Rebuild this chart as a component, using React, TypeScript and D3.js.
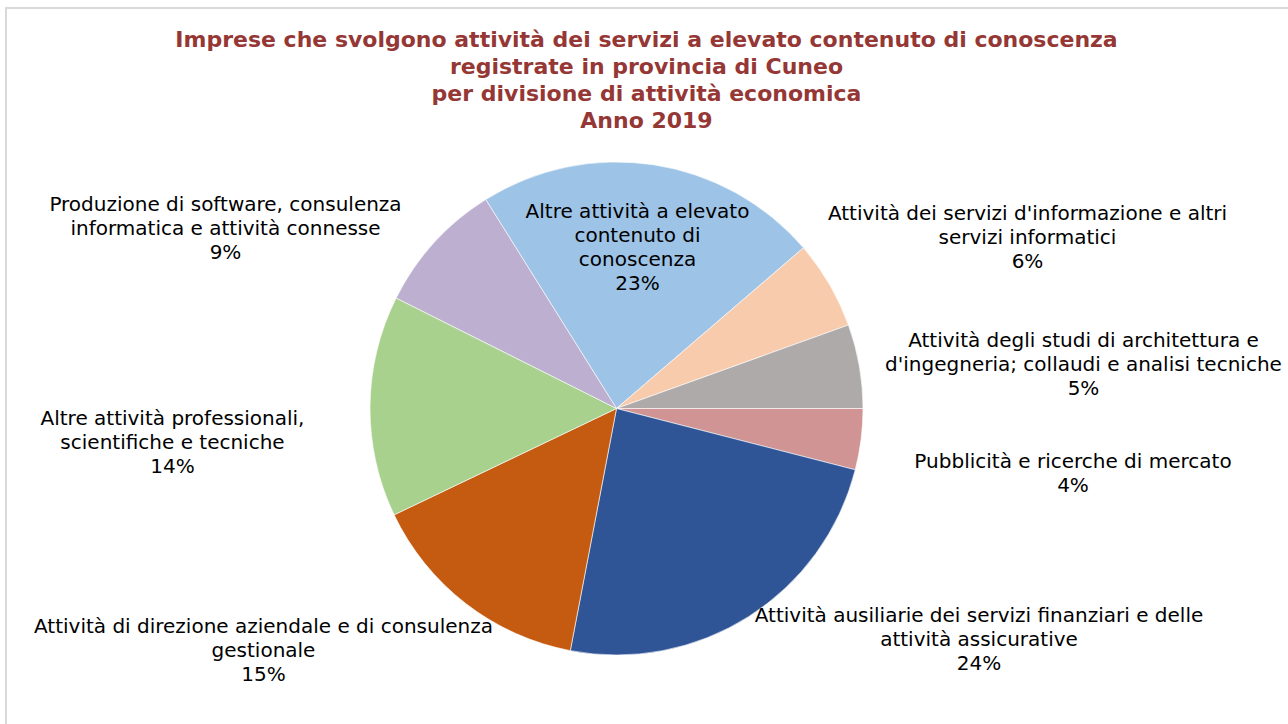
import React from "react";
import * as d3 from "d3";

const categories = [
  "Altre attività a elevato\ncontenuto di\nconoscenza",
  "Attività dei servizi d'informazione e altri\nservizi informatici",
  "Attività degli studi di architettura e\nd'ingegneria; collaudi e analisi tecniche",
  "Pubblicità e ricerche di mercato",
  "Attività ausiliarie dei servizi finanziari e delle\nattività assicurative",
  "Attività di direzione aziendale e di consulenza\ngestionale",
  "Altre attività professionali,\nscientifiche e tecniche",
  "Produzione di software, consulenza\ninformatica e attività connesse",
];
const values = [22.6, 5.8, 5.5, 4.0, 24.0, 14.9, 14.5, 8.7];
const colors = ["#9DC3E6", "#F8CBAD", "#AEAAAA", "#D09494", "#2F5597", "#C55A11", "#A9D18E", "#BDAFD0"];
const titleLines = [
  "Imprese che svolgono attività dei servizi a elevato contenuto di conoscenza",
  "registrate in provincia di Cuneo",
  "per divisione di attività economica",
  "Anno 2019",
];

// label layout: label center x, first baseline y, relative to pie center
const labelOffsets: [number, number][] = [
  [21, -190.5],
  [411, -189],
  [467, -62],
  [456.5, 59],
  [362.5, 213.5],
  [-353, 224.5],
  [-444, 16.5],
  [-391, -197.5],
];

const W = 1288;
const H = 724;
const cx = 616.5;
const cy = 408.5;
const R = 246.5;
const startDeg = -32.04;

export default function App() {
  const pie = d3
    .pie<number>()
    .sort(null)
    .value((d) => d)
    .startAngle((startDeg * Math.PI) / 180)
    .endAngle(((startDeg + 360) * Math.PI) / 180);
  const arcs = pie(values);
  const arc = d3.arc<d3.PieArcDatum<number>>().innerRadius(0).outerRadius(R);
  const total = d3.sum(values);
  const fmt = (v: number) => Math.round((v / total) * 100) + "%";

  return (
    <svg
      width={W}
      height={H}
      style={{ position: "absolute", left: 0, top: 0, background: "#fff" }}
      fontFamily="'DejaVu Sans', Verdana, sans-serif"
    >
      <rect x={6} y={8} width={1290} height={730} fill="#fff" stroke="#d9d9d9" strokeWidth={2} />
      <g fill="#953735" fontWeight="bold" fontSize={22} textAnchor="middle">
        {titleLines.map((t, i) => (
          <text key={i} x={646.5} y={47 + i * 27}>
            {t}
          </text>
        ))}
      </g>
      <g transform={`translate(${cx},${cy})`}>
        {arcs.map((a, i) => (
          <path key={i} d={arc(a) || ""} fill={colors[i]} stroke="#fff" strokeWidth={0.6} />
        ))}
        {arcs.map((a, i) => {
          const lines = categories[i].split("\n").concat([fmt(values[i])]);
          const [lx, ly] = labelOffsets[i];
          return (
            <text key={"l" + i} textAnchor="middle" fontSize={20} fill="#000">
              {lines.map((ln, j) => (
                <tspan key={j} x={lx} y={ly + j * 24}>
                  {ln}
                </tspan>
              ))}
            </text>
          );
        })}
      </g>
    </svg>
  );
}
